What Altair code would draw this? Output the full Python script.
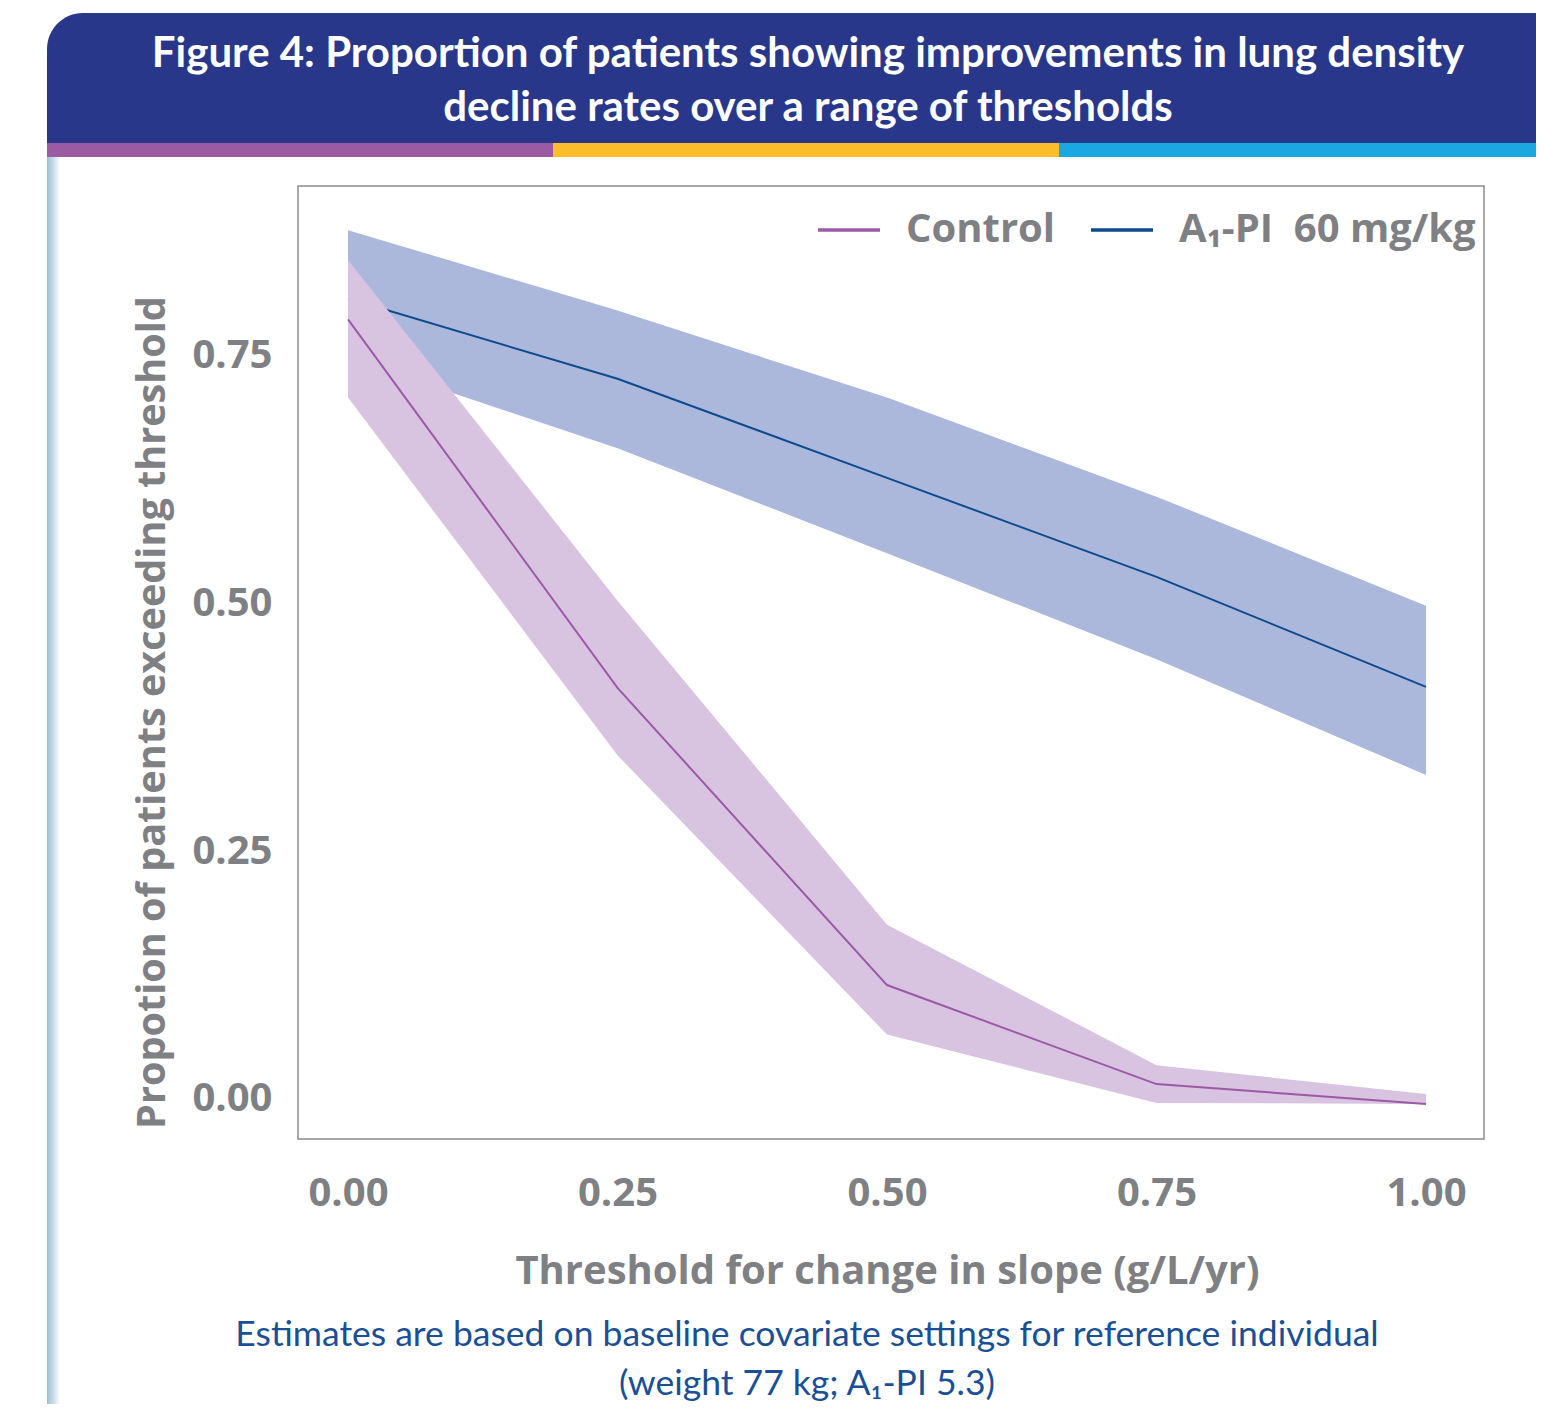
import altair as alt
import pandas as pd

# ---- data ----
thresholds = [0.0, 0.25, 0.50, 0.75, 1.00]
control_mid = [0.787, 0.415, 0.115, 0.015, -0.005]
control_lo = [0.708, 0.347, 0.065, -0.004, -0.005]
control_hi = [0.847, 0.503, 0.176, 0.034, 0.005]
a1pi_mid = [0.808, 0.727, 0.627, 0.527, 0.416]
a1pi_lo = [0.748, 0.657, 0.551, 0.444, 0.327]
a1pi_hi = [0.877, 0.796, 0.708, 0.608, 0.498]

groups = ["Control", "A\u2081-PI\u00a0 60 mg/kg"]
line_colors = ["#9b59a8", "#0d4a8e"]
band_colors = ["#d8c3e1", "#abb8dc"]

x_ticks = [0.0, 0.25, 0.5, 0.75, 1.0]
y_ticks = [0.0, 0.25, 0.5, 0.75]

title_lines = [
    "Figure 4: Proportion of patients showing improvements in lung density",
    "decline rates over a range of thresholds",
]
foot_lines = [
    "Estimates are based on baseline covariate settings for reference individual",
    "(weight 77 kg; A\u2081-PI 5.3)",
]
x_title = "Threshold for change in slope (g/L/yr)"
y_title = "Propotion of patients exceeding threshold"

rows = []
for g, mid, lo, hi in [
    (groups[0], control_mid, control_lo, control_hi),
    (groups[1], a1pi_mid, a1pi_lo, a1pi_hi),
]:
    for t, m, l, h in zip(thresholds, mid, lo, hi):
        rows.append({"group": g, "x": t, "mid": m, "lo": l, "hi": h})
df = pd.DataFrame(rows)

W, H = 1186, 953
GRAY = "#7f8083"
AX_FONT = "Open Sans"

xs = alt.Scale(domain=[-0.0464, 1.0538], nice=False, zero=False)
ys = alt.Scale(domain=[-0.0404, 0.9216], nice=False, zero=False)

x_axis = alt.Axis(
    values=x_ticks, format=".2f", title=x_title, grid=False, domain=False, ticks=False,
    labelPadding=34, labelFontSize=40, labelFont=AX_FONT, labelFontWeight="bold",
    labelColor=GRAY, titleFont=AX_FONT, titleFontSize=40, titleFontWeight="bold",
    titleColor=GRAY, titleX=589, titleY=132, titleBaseline="middle",
)
y_axis = alt.Axis(
    values=y_ticks, format=".2f", title=y_title, grid=False, domain=False, ticks=False,
    labelPadding=26, labelFontSize=40, labelFont=AX_FONT, labelFontWeight="bold",
    labelColor=GRAY, labelBaseline="middle", titleFont=AX_FONT, titleFontSize=39.6,
    titleFontWeight="bold", titleColor=GRAY, titleX=-146, titleY=526,
    titleBaseline="middle", titleAngle=-90,
)

color_scale = alt.Scale(domain=groups, range=line_colors)

def band(i):
    g = groups[i]
    return alt.Chart(df).transform_filter(alt.datum.group == g).mark_area(
        color=band_colors[i], opacity=1
    ).encode(
        x=alt.X("x:Q", scale=xs, axis=x_axis),
        y=alt.Y("lo:Q", scale=ys, axis=y_axis),
        y2="hi:Q",
    )

legend = alt.Legend(
    title=None, orient="none", legendX=518, legendY=11, direction="horizontal",
    symbolType="stroke", symbolSize=3844, symbolStrokeWidth=3.5, labelOffset=24,
    columnPadding=28, labelFont=AX_FONT, labelFontSize=40, labelFontWeight="bold",
    labelColor=GRAY, labelLimit=600,
)

def line(i):
    g = groups[i]
    return alt.Chart(df).transform_filter(alt.datum.group == g).mark_line(
        strokeWidth=2
    ).encode(
        x=alt.X("x:Q", scale=xs),
        y=alt.Y("mid:Q", scale=ys),
        color=alt.Color("group:N", scale=color_scale, legend=legend),
    )

one = pd.DataFrame({"k": [0]})

def rect(x1, x2, y1, y2, color, **kw):
    return alt.Chart(one).mark_rect(color=color, **kw).encode(
        x=alt.value(x1), x2=alt.value(x2), y=alt.value(y1), y2=alt.value(y2)
    )

header = rect(-251, 1290, -173, -43, "#29378a", cornerRadiusTopLeft=36,
              cornerRadiusTopRight=36)
stripe1 = rect(-251, 255, -43, -29, "#9b5ba3")
stripe2 = rect(255, 761, -43, -29, "#fbbd29")
stripe3 = rect(761, 1290, -43, -29, "#1ba7e0")
border = alt.Chart(one).mark_rect(
    color=alt.LinearGradient(
        gradient="linear", x1=0, x2=1, y1=0, y2=0,
        stops=[alt.GradientStop(color="#9fbfd6", offset=0),
               alt.GradientStop(color="#c9dcea", offset=0.5),
               alt.GradientStop(color="#ffffff", offset=1)],
    ),
    cornerRadiusBottomLeft=4,
).encode(x=alt.value(-251), x2=alt.value(-238), y=alt.value(-29), y2=alt.value(1226))

def text(s, x, y, size, color, font, weight):
    return alt.Chart(one).mark_text(
        fontSize=size, color=color, font=font, fontWeight=weight,
        align="center", baseline="middle",
    ).encode(x=alt.value(x), y=alt.value(y), text=alt.value(s))

TFONT = "Lato"
t1 = text(title_lines[0], 510, -132, 42, "white", TFONT, "bold")
t2 = text(title_lines[1], 510, -78, 42, "white", TFONT, "bold")
f1 = text(foot_lines[0], 509, 1149, 35.5, "#1b4f95", "Lato", "normal")
f2 = text(foot_lines[1], 509, 1198, 35.5, "#1b4f95", "Lato", "normal")

chart = alt.layer(
    band(1), line(1), band(0), line(0),
    header, stripe1, stripe2, stripe3, border, t1, t2, f1, f2,
).resolve_scale(x="shared", y="shared").properties(
    width=W, height=H,
    autosize=alt.AutoSizeParams(type="none"),
    padding={"left": 290, "top": 178, "right": 52, "bottom": 265},
    background="white",
).configure_view(stroke="#8c8c8c", strokeWidth=1.5)

chart.save("out.html", embed_options={"renderer": "svg", "actions": False})
